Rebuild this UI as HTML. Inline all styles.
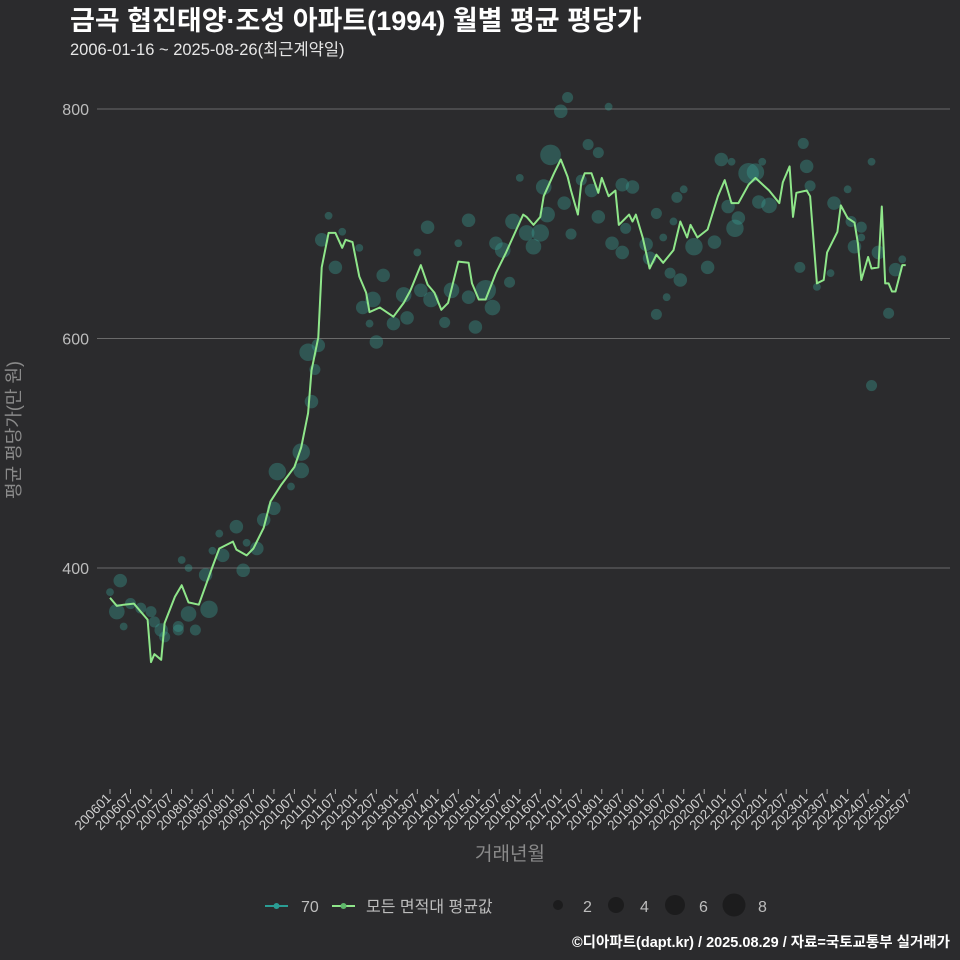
<!DOCTYPE html>
<html><head><meta charset="utf-8"><style>
html,body{margin:0;padding:0;background:#2b2b2d;}
svg{display:block;font-family:"Liberation Sans","Noto Sans CJK KR",sans-serif;}
</style></head><body>
<svg id="chart" width="960" height="960" viewBox="0 0 960 960">
<rect width="960" height="960" fill="#2b2b2d"/>
<text x="70" y="30" fill="#ffffff" font-size="27" font-weight="bold">금곡 협진태양·조성 아파트(1994) 월별 평균 평당가</text>
<text x="70" y="55" fill="#e6e6e6" font-size="16.5">2006-01-16 ~ 2025-08-26(최근계약일)</text>
<g id="grid"></g>
<g id="yticks"></g>
<g id="xticks"></g>
<g id="bubbles"></g>
<path id="line" fill="none" stroke="#8fe68a" stroke-width="2" stroke-linejoin="round"/>
<text x="0" y="0" transform="translate(20,430) rotate(-90)" text-anchor="middle" fill="#8a8a8a" font-size="18">평균 평당가(만 원)</text>
<text x="510" y="860" text-anchor="middle" fill="#8a8a8a" font-size="19">거래년월</text>
<g>
<g>
<line x1="265" y1="906" x2="288" y2="906" stroke="#2a9d94" stroke-width="2"/>
<circle cx="276.5" cy="906" r="3" fill="#2a9d94"/>
<text x="301" y="912" fill="#bdbdbd" font-size="16">70</text></g>
<g>
<line x1="332" y1="906" x2="355" y2="906" stroke="#8fe68a" stroke-width="2"/>
<circle cx="343.5" cy="906" r="3" fill="#5fb86a"/>
<text x="366" y="912" fill="#bdbdbd" font-size="16">모든 면적대 평균값</text></g>
<g>
<circle cx="558" cy="905" r="5" fill="#1c1c1d"/><text x="583" y="912" fill="#bdbdbd" font-size="16">2</text>
<circle cx="616" cy="905" r="8" fill="#1c1c1d"/><text x="640" y="912" fill="#bdbdbd" font-size="16">4</text>
<circle cx="675" cy="905" r="10" fill="#1c1c1d"/><text x="699" y="912" fill="#bdbdbd" font-size="16">6</text>
<circle cx="734" cy="905" r="11.5" fill="#1c1c1d"/><text x="758" y="912" fill="#bdbdbd" font-size="16">8</text>
</g></g>
<text x="950" y="947" text-anchor="end" fill="#ffffff" font-size="14.5" font-weight="bold">©디아파트(dapt.kr) / 2025.08.29 / 자료=국토교통부 실거래가</text>
</svg>
<script>
const yTicks=[400,600,800];
const xTickLabels=["200601","200607","200701","200707","200801","200807","200901","200907","201001","201007","201101","201107","201201","201207","201301","201307","201401","201407","201501","201507","201601","201607","201701","201707","201801","201807","201901","201907","202001","202007","202101","202107","202201","202207","202301","202307","202401","202407","202501","202507"];
// month index from 2006-01
const lineMonths=[0,2,4,7,9,11,12,13,15,16,19,21,23,26,30,32,36,37,40,42,45,47,50,54,56,58,59,61,62,64,66,68,69,71,73,75,76,79,83,86,88,91,93,95,97,99,102,105,106,108,110,113,116,119,121,122,124,126,127,130,132,134,135,137,138,139,141,143,144,146,148,149,152,153,154,156,158,160,162,165,167,169,170,172,175,178,180,182,184,187,189,193,196,197,199,200,201,204,205,207,209,210,213,214,216,218,219,220,222,223,225,226,227,228,229,230,232,233];
const lineValues=[374,367,368,369,362,355,318,325,320,352,375,385,370,368,401,417,423,416,411,417,435,458,472,488,505,535,572,601,662,692,692,679,686,684,654,640,623,627,619,631,642,664,647,640,625,631,667,666,648,634,634,657,675,695,708,706,699,706,724,744,756,741,729,708,736,744,744,727,740,724,729,699,708,702,708,688,661,673,666,677,702,688,699,688,695,724,738,718,718,734,740,729,718,736,750,706,727,729,724,648,651,675,693,716,705,701,683,651,671,661,662,715,648,648,641,641,664,664];
const bubbleMonths=[2,3,0,6,9,12,13,4,15,16,20,23,25,29,30,21,23,20,28,37,32,33,39,40,43,45,48,49,56,56,53,59,60,58,61,66,62,64,68,73,80,77,74,78,76,83,86,93,105,90,102,87,91,94,98,100,105,110,112,107,117,113,115,118,122,124,126,128,127,129,133,135,132,134,146,120,140,143,138,141,143,150,153,151,147,150,157,158,160,166,168,164,167,160,163,165,162,171,175,177,179,182,183,184,187,189,193,190,181,191,203,204,205,202,211,207,212,216,217,220,218,220,223,223,225,228,230,232];
const bubbleValues=[362,389,379,369,365,362,353,349,346,340,346,360,346,364,415,407,400,349,394,436,430,411,398,422,417,442,452,484,501,485,471,545,573,588,594,662,686,707,693,679,655,634,627,597,613,613,638,697,703,675,683,618,642,634,614,642,636,642,627,610,649,683,677,702,692,680,692,708,732,760,718,691,798,810,802,740,769,762,738,729,706,734,732,696,683,675,682,670,709,723,730,657,651,621,636,702,688,680,662,684,756,754,696,705,744,745,716,719,715,754,770,750,733,662,657,645,718,730,702,697,680,688,754,559,675,622,660,669];
const bubbleSizes=[4,3,1,2,2,2,2,1,3,2,2,4,2,5,1,1,1,2,3,3,1,3,3,1,3,3,3,5,5,4,1,3,2,5,3,3,3,1,1,1,3,4,3,3,1,3,4,3,3,1,1,3,3,4,2,4,3,7,4,3,2,3,4,4,4,4,5,4,4,7,3,2,3,2,1,1,2,2,2,3,3,3,3,2,3,3,3,3,2,2,1,2,3,2,1,1,1,5,3,3,3,1,5,3,7,5,4,3,3,1,2,3,2,2,1,1,3,1,2,2,3,1,1,2,3,2,3,1];

const NS="http://www.w3.org/2000/svg";
const X0=110,PX_PER_MONTH=3.415;
const xScale=m=>X0+m*PX_PER_MONTH;
const yScale=v=>568-(v-400)*1.1475;
const rScale=s=>3.9*Math.sqrt(Math.max(s,0.6));

const grid=document.getElementById('grid'),yt=document.getElementById('yticks');
yTicks.forEach(v=>{
  const l=document.createElementNS(NS,'line');
  
  
  l.setAttribute('x1',97);l.setAttribute('x2',950);
  l.setAttribute('y1',yScale(v));l.setAttribute('y2',yScale(v));
  l.setAttribute('stroke','#6a6a6a');l.setAttribute('stroke-width','1');
  grid.appendChild(l);
  const t=document.createElementNS(NS,'text');
  
  
  t.setAttribute('x',89);t.setAttribute('y',yScale(v)+6);
  t.setAttribute('text-anchor','end');t.setAttribute('fill','#bdbdbd');t.setAttribute('font-size','16');
  t.textContent=v;yt.appendChild(t);
});
const xt=document.getElementById('xticks');
xTickLabels.forEach((lab,i)=>{
  const x=xScale(i*6);
  const l=document.createElementNS(NS,'line');
  
  
  l.setAttribute('x1',x);l.setAttribute('x2',x);l.setAttribute('y1',789);l.setAttribute('y2',794);
  l.setAttribute('stroke','#aaaaaa');xt.appendChild(l);
  const t=document.createElementNS(NS,'text');
  
  
  t.setAttribute('transform','translate('+(x+2)+',799) rotate(-45)');
  t.setAttribute('text-anchor','end');t.setAttribute('fill','#cfcfcf');t.setAttribute('font-size','13.5');
  t.textContent=lab;xt.appendChild(t);
});
const bg=document.getElementById('bubbles');
bubbleMonths.forEach((m,i)=>{
  const c=document.createElementNS(NS,'circle');
  
  
  c.setAttribute('cx',xScale(m));c.setAttribute('cy',yScale(bubbleValues[i]));
  c.setAttribute('r',rScale(bubbleSizes[i]));
  c.setAttribute('fill','#3a9d92');c.setAttribute('fill-opacity','0.38');
  bg.appendChild(c);
});
document.getElementById('line').setAttribute('d',lineMonths.map((m,i)=>(i?'L':'M')+xScale(m).toFixed(1)+','+yScale(lineValues[i]).toFixed(1)).join(''));
</script>
</body></html>
